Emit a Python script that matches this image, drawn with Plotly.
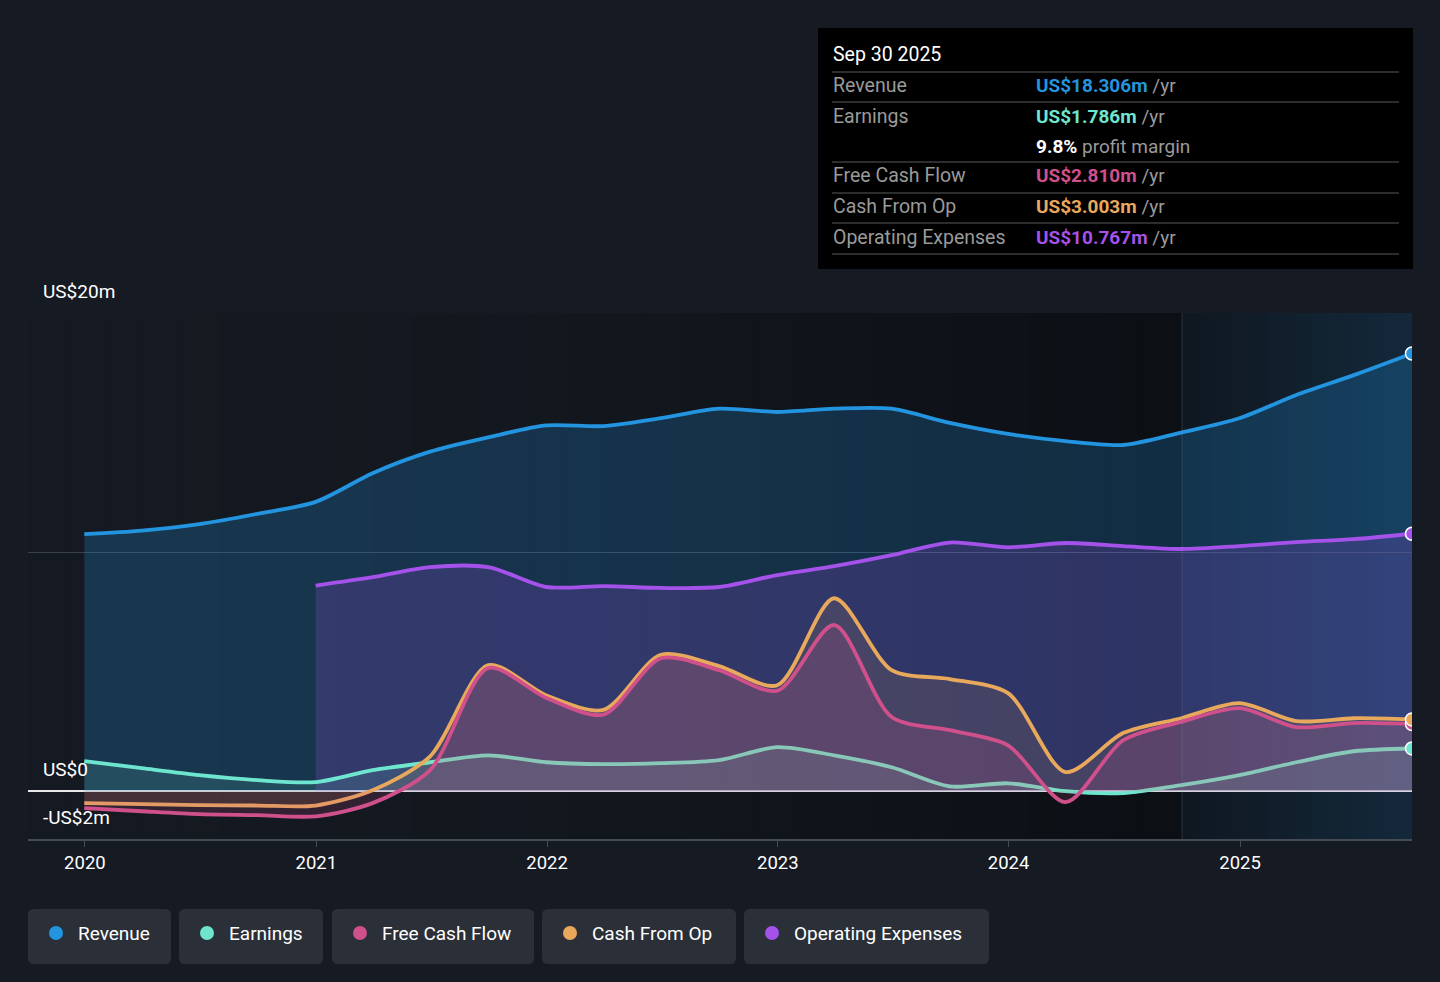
import plotly.graph_objects as go

# ---------------- data (US$ millions, quarterly, trailing twelve months) ----------------
dates = ["2019-12-31", "2020-03-31", "2020-06-30", "2020-09-30",
         "2020-12-31", "2021-03-31", "2021-06-30", "2021-09-30",
         "2021-12-31", "2022-03-31", "2022-06-30", "2022-09-30",
         "2022-12-31", "2023-03-31", "2023-06-30", "2023-09-30",
         "2023-12-31", "2024-03-31", "2024-06-30", "2024-09-30",
         "2024-12-31", "2025-03-31", "2025-06-30", "2025-09-30"]

revenue = [10.75, 10.9, 11.17, 11.6, 12.1, 13.3, 14.2, 14.8,
           15.3, 15.27, 15.6, 16.0, 15.86, 16.0, 16.0, 15.4,
           14.94, 14.64, 14.48, 15.0, 15.6, 16.57, 17.4, 18.306]

earnings = [1.26, 0.96, 0.67, 0.46, 0.38, 0.88, 1.21, 1.5,
            1.21, 1.13, 1.17, 1.3, 1.84, 1.5, 1.0, 0.2,
            0.33, 0.0, -0.08, 0.25, 0.67, 1.21, 1.67, 1.786]

free_cash_flow = [-0.71, -0.84, -0.96, -1.0, -1.05, -0.5, 0.88, 5.15,
                  3.9, 3.2, 5.56, 5.06, 4.2, 6.95, 3.1, 2.55,
                  1.92, -0.46, 2.13, 2.9, 3.47, 2.68, 2.85, 2.81]

cash_from_op = [-0.5, -0.54, -0.58, -0.6, -0.6, 0.04, 1.46, 5.27,
                4.0, 3.4, 5.7, 5.23, 4.43, 8.07, 5.06, 4.69,
                4.1, 0.8, 2.43, 3.05, 3.68, 2.93, 3.05, 3.003]

opex_dates = dates[4:]
operating_expenses = [8.6, 8.95, 9.37, 9.37, 8.54, 8.58, 8.5, 8.54,
                      9.04, 9.41, 9.87, 10.4, 10.2, 10.38, 10.25, 10.13,
                      10.25, 10.42, 10.54, 10.767]

series_names = ["Revenue", "Earnings", "Free Cash Flow", "Cash From Op", "Operating Expenses"]
tick_years = ["2020", "2021", "2022", "2023", "2024", "2025"]
y_labels = {20: "US$20m", 0: "US$0", -2: "-US$2m"}
tooltip_date = "Sep 30 2025"
profit_margin = "9.8%"

# ---------------- styling ----------------
C_REV = "#2394df"
C_EARN = "#6ee6cf"
C_FCF = "#d0508c"
C_CFO = "#e9a95d"
C_OPEX = "#a552ea"
PAGE_BG = "#151a23"
FONT = "Roboto"

W, H = 1440, 982
L, R, T, B = 28, 1412, 313, 839  # plot area in pixels


def px(x):
    return (x - L) / (R - L)


def py(y):
    return (B - y) / (B - T)


def rgba(hexc, a):
    hexc = hexc.lstrip("#")
    r, g, b = int(hexc[0:2], 16), int(hexc[2:4], 16), int(hexc[4:6], 16)
    return f"rgba({r},{g},{b},{a})"


def rounded_rect(x0, y0, x1, y1, r):
    pts = [
        f"M {px(x0 + r)} {py(y0)}",
        f"L {px(x1 - r)} {py(y0)}",
        f"Q {px(x1)} {py(y0)} {px(x1)} {py(y0 + r)}",
        f"L {px(x1)} {py(y1 - r)}",
        f"Q {px(x1)} {py(y1)} {px(x1 - r)} {py(y1)}",
        f"L {px(x0 + r)} {py(y1)}",
        f"Q {px(x0)} {py(y1)} {px(x0)} {py(y1 - r)}",
        f"L {px(x0)} {py(y0 + r)}",
        f"Q {px(x0)} {py(y0)} {px(x0 + r)} {py(y0)}",
        "Z",
    ]
    return " ".join(pts)


fig = go.Figure()


def add_series(x, y, color, fill_alpha, name):
    fig.add_trace(go.Scatter(
        x=x, y=y, name=name, mode="lines",
        line=dict(color=color, width=3.8, shape="spline", smoothing=0.8),
        fill="tozeroy", fillcolor=rgba(color, fill_alpha),
        hoverinfo="skip", showlegend=False,
    ))


add_series(dates, revenue, C_REV, 0.23, series_names[0])
add_series(opex_dates, operating_expenses, C_OPEX, 0.2, series_names[4])
add_series(dates, earnings, C_EARN, 0.14, series_names[1])
add_series(dates, cash_from_op, C_CFO, 0.12, series_names[3])
add_series(dates, free_cash_flow, C_FCF, 0.16, series_names[2])

# end markers
for xs, ys, c in [(dates, revenue, C_REV), (opex_dates, operating_expenses, C_OPEX),
                  (dates, free_cash_flow, C_FCF), (dates, cash_from_op, C_CFO),
                  (dates, earnings, C_EARN)]:
    fig.add_trace(go.Scatter(
        x=[xs[-1]], y=[ys[-1]], mode="markers",
        marker=dict(size=13, color=c, line=dict(color="white", width=1.5)),
        hoverinfo="skip", showlegend=False,
    ))

shapes = []
# background gradient strips (past area)
n = 30
x_start, x_end = L, 1182
c0, c1 = (21, 26, 34), (12, 15, 20)
for i in range(n):
    t = i / (n - 1)
    t2 = t ** 1.6
    col = tuple(int(round(c0[k] + (c1[k] - c0[k]) * t2)) for k in range(3))
    xa = x_start + (x_end - x_start) * i / n
    xb = x_start + (x_end - x_start) * (i + 1) / n + 0.5
    shapes.append(dict(type="rect", xref="paper", yref="paper", layer="below",
                       x0=px(xa), x1=px(min(xb, x_end)), y0=0, y1=1,
                       fillcolor=f"rgb{col}", line=dict(width=0)))
# highlight region (last twelve months)
h0, h1 = (15, 24, 33), (19, 40, 58)
m = 16
for i in range(m):
    t = i / (m - 1)
    col = tuple(int(round(h0[k] + (h1[k] - h0[k]) * t)) for k in range(3))
    xa = 1182 + (R - 1182) * i / m
    xb = 1182 + (R - 1182) * (i + 1) / m + 0.5
    shapes.append(dict(type="rect", xref="paper", yref="paper", layer="below",
                       x0=px(xa), x1=px(min(xb, R)), y0=0, y1=1,
                       fillcolor=f"rgb{col}", line=dict(width=0)))
shapes.append(dict(type="line", xref="paper", yref="paper", layer="above",
                   x0=px(1182), x1=px(1182), y0=0, y1=1,
                   line=dict(color="rgba(120,140,160,0.25)", width=1)))

# tooltip box
shapes.append(dict(type="rect", xref="paper", yref="paper",
                   x0=px(818), x1=px(1413), y0=py(269), y1=py(28),
                   fillcolor="#000000", line=dict(width=0)))
for yy in [72, 102, 162, 193, 223, 254]:
    shapes.append(dict(type="line", xref="paper", yref="paper",
                       x0=px(832), x1=px(1399), y0=py(yy), y1=py(yy),
                       line=dict(color="#3d3d3d", width=1.5)))

# legend boxes
legend_boxes = [(28, 171), (179, 323), (332, 534), (542, 736), (744, 989)]
legend_colors = [C_REV, C_EARN, C_FCF, C_CFO, C_OPEX]
for (x0, x1) in legend_boxes:
    shapes.append(dict(type="path", xref="paper", yref="paper",
                       path=rounded_rect(x0, 909, x1, 964, 6),
                       fillcolor="#2a2f38", line=dict(width=0)))
for (x0, x1), c in zip(legend_boxes, legend_colors):
    cx, cy = x0 + 28, 933
    shapes.append(dict(type="circle", xref="paper", yref="paper",
                       x0=px(cx - 7), x1=px(cx + 7), y0=py(cy + 7), y1=py(cy - 7),
                       fillcolor=c, line=dict(width=0)))

annotations = []
# y labels
for val, txt in y_labels.items():
    annotations.append(dict(x=px(41), xref="paper", y=val, yref="y",
                            text=txt, showarrow=False, xanchor="left", yanchor="bottom",
                            yshift=8, font=dict(family=FONT, size=19, color="#ffffff")))

# tooltip texts
annotations.append(dict(x=px(831), y=py(55), xref="paper", yref="paper", text=tooltip_date,
                        showarrow=False, xanchor="left", yanchor="middle",
                        font=dict(family=FONT, size=19.5, color="#ffffff")))
rows = [
    ("Revenue", f"<b>US${revenue[-1]:.3f}m</b>", C_REV, 86),
    ("Earnings", f"<b>US${earnings[-1]:.3f}m</b>", C_EARN, 116),
    ("Free Cash Flow", f"<b>US${free_cash_flow[-1]:.3f}m</b>", C_FCF, 176),
    ("Cash From Op", f"<b>US${cash_from_op[-1]:.3f}m</b>", C_CFO, 207),
    ("Operating Expenses", f"<b>US${operating_expenses[-1]:.3f}m</b>", C_OPEX, 237),
]
for lab, val, c, yy in rows:
    annotations.append(dict(x=px(831), y=py(yy), xref="paper", yref="paper", text=lab,
                            showarrow=False, xanchor="left", yanchor="middle",
                            font=dict(family=FONT, size=19.5, color="#9a9a9a")))
    annotations.append(dict(x=px(1034), y=py(yy), xref="paper", yref="paper",
                            text=f"<span style='color:{c}'>{val}</span> /yr",
                            showarrow=False, xanchor="left", yanchor="middle",
                            font=dict(family=FONT, size=19, color="#9a9a9a")))
annotations.append(dict(x=px(1034), y=py(146), xref="paper", yref="paper",
                        text=f"<span style='color:#ffffff'><b>{profit_margin}</b></span> profit margin",
                        showarrow=False, xanchor="left", yanchor="middle",
                        font=dict(family=FONT, size=19, color="#9a9a9a")))

# legend texts
for (x0, x1), name in zip(legend_boxes, series_names):
    annotations.append(dict(x=px(x0 + 48), y=py(933), xref="paper", yref="paper",
                            text=name, showarrow=False, xanchor="left", yanchor="middle",
                            font=dict(family=FONT, size=19, color="#ffffff")))

fig.update_layout(
    width=W, height=H,
    margin=dict(l=L, r=W - R, t=T, b=H - B),
    paper_bgcolor=PAGE_BG, plot_bgcolor=PAGE_BG,
    font=dict(family=FONT, color="#ffffff"),
    showlegend=False,
    shapes=shapes, annotations=annotations,
    xaxis=dict(
        type="date", range=["2019-10-03", "2025-09-30"],
        tickvals=[f"{y}-01-01" for y in tick_years], ticktext=tick_years,
        showgrid=False, zeroline=False,
        showline=True, linecolor="#454b54", linewidth=2,
        ticks="outside", ticklen=6, tickcolor="#454b54", tickwidth=1,
        tickfont=dict(family=FONT, size=18.5, color="#ffffff"),
    ),
    yaxis=dict(
        range=[-2, 20], tickvals=[0, 10, 20], showticklabels=False,
        showgrid=True, gridcolor="#3a4049", gridwidth=1,
        zeroline=True, zerolinecolor="#e8e8e8", zerolinewidth=1.5,
        fixedrange=True,
    ),
)

fig.write_html(
    "out.html",
    config={"displayModeBar": False},
    post_script="document.body.style.margin='0';document.body.style.background='%s';" % PAGE_BG,
)
